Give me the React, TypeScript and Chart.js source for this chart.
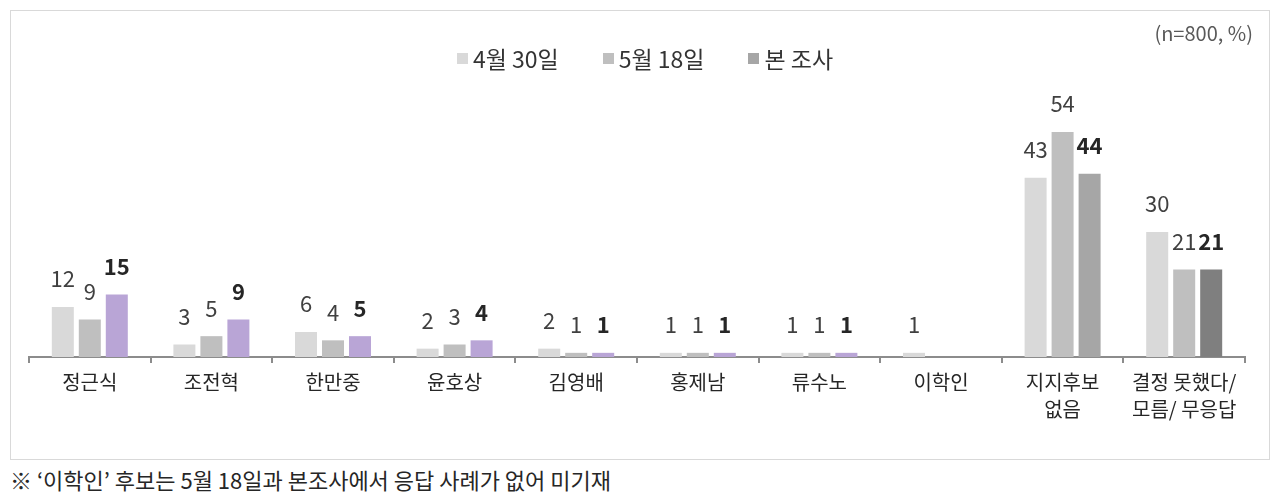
import { useEffect, useRef } from "react";
import { Chart, registerables } from "chart.js";

Chart.register(...registerables);

const FONT = "'Noto Sans CJK KR', 'Noto Sans', sans-serif";

const CATEGORIES: Array<string | string[]> = [
  "정근식",
  "조전혁",
  "한만중",
  "윤호상",
  "김영배",
  "홍제남",
  "류수노",
  "이학인",
  ["지지후보", "없음"],
  ["결정 못했다/", "모름/ 무응답"],
];

const SERIES_NAMES = ["4월 30일", "5월 18일", "본 조사"];

const APR30 = [12, 3, 6, 2, 2, 1, 1, 1, 43, 30];
const MAY18: Array<number | null> = [9, 5, 4, 3, 1, 1, 1, null, 54, 21];
const CURRENT: Array<number | null> = [15, 9, 5, 4, 1, 1, 1, null, 44, 21];

const APR30_COLOR = "#d9d9d9";
const MAY18_COLOR = "#bfbfbf";
const CURRENT_COLORS = [
  "#b9a5d6",
  "#b9a5d6",
  "#b9a5d6",
  "#b9a5d6",
  "#b9a5d6",
  "#b9a5d6",
  "#b9a5d6",
  "#b9a5d6",
  "#a6a6a6",
  "#7f7f7f",
];
const LEGEND_COLORS = [APR30_COLOR, MAY18_COLOR, "#a6a6a6"];

const valueLabels = {
  id: "valueLabels",
  afterDatasetsDraw(chart: Chart) {
    const { ctx } = chart;
    ctx.save();
    ctx.textAlign = "center";
    ctx.textBaseline = "middle";
    chart.data.datasets.forEach((ds, di) => {
      const meta = chart.getDatasetMeta(di);
      ctx.font = `${di === 2 ? "bold " : ""}22px ${FONT}`;
      ctx.fillStyle = di === 2 ? "#262626" : "#404040";
      meta.data.forEach((el, i) => {
        const v = ds.data[i] as number | null;
        if (v == null) return;
        ctx.fillText(String(v), el.x, el.y - 28);
      });
    });
    ctx.restore();
  },
};

function SurveyChart() {
  const canvasRef = useRef<HTMLCanvasElement>(null);
  const chartRef = useRef<Chart | null>(null);

  useEffect(() => {
    if (!canvasRef.current) return;
    const ctx = canvasRef.current.getContext("2d");
    if (!ctx) return;

    chartRef.current?.destroy();
    chartRef.current = new Chart(ctx, {
      type: "bar",
      data: {
        labels: CATEGORIES,
        datasets: [
          { label: SERIES_NAMES[0], data: APR30, backgroundColor: APR30_COLOR },
          { label: SERIES_NAMES[1], data: MAY18, backgroundColor: MAY18_COLOR },
          { label: SERIES_NAMES[2], data: CURRENT, backgroundColor: CURRENT_COLORS },
        ],
      },
      options: {
        animation: false,
        responsive: true,
        maintainAspectRatio: false,
        datasets: { bar: { categoryPercentage: 0.666, barPercentage: 0.815 } },
        layout: { padding: { top: 96, left: 18, right: 24, bottom: 30 } },
        plugins: { legend: { display: false }, tooltip: { enabled: false } },
        scales: {
          y: { display: false, min: 0, max: 60 },
          x: {
            border: { color: "#8c8c8c", width: 2 },
            grid: {
              offset: true,
              drawOnChartArea: false,
              drawTicks: true,
              tickLength: 6,
              color: "#8c8c8c",
              lineWidth: 2,
            },
            ticks: {
              padding: 6,
              color: "#262626",
              font: { family: FONT, size: 20, lineHeight: 1.35 },
              maxRotation: 0,
              autoSkip: false,
            },
          },
        },
      },
      plugins: [valueLabels],
    });

    return () => chartRef.current?.destroy();
  }, []);

  return (
    <div style={{ position: "absolute", left: 11, top: 11, width: 1258, height: 448 }}>
      <canvas ref={canvasRef} />
    </div>
  );
}

export default function App() {
  return (
    <div
      style={{
        position: "relative",
        width: 1280,
        height: 501,
        margin: -8,
        background: "#fff",
        fontFamily: FONT,
        overflow: "hidden",
      }}
    >
      <div
        style={{
          position: "absolute",
          left: 10,
          top: 10,
          width: 1258,
          height: 448,
          border: "1px solid #d9d9d9",
        }}
      />
      <SurveyChart />
      <div
        style={{
          position: "absolute",
          right: 27,
          top: 18,
          fontSize: 20,
          color: "#595959",
        }}
      >
        (n=800, %)
      </div>
      <div
        style={{
          position: "absolute",
          left: 0,
          width: 1280,
          top: 42,
          display: "flex",
          justifyContent: "center",
          paddingLeft: 10,
          boxSizing: "border-box",
          gap: 44,
        }}
      >
        {SERIES_NAMES.map((name, i) => (
          <div key={name} style={{ display: "flex", alignItems: "center", gap: 5 }}>
            <span style={{ width: 11, height: 11, background: LEGEND_COLORS[i], display: "inline-block" }} />
            <span style={{ fontSize: 23, color: "#333", lineHeight: "32px" }}>{name}</span>
          </div>
        ))}
      </div>
      <div
        style={{
          position: "absolute",
          left: 10,
          top: 463,
          fontSize: 22,
          color: "#262626",
          whiteSpace: "nowrap",
        }}
      >
        ※ ‘이학인’ 후보는 5월 18일과 본조사에서 응답 사례가 없어 미기재
      </div>
    </div>
  );
}
